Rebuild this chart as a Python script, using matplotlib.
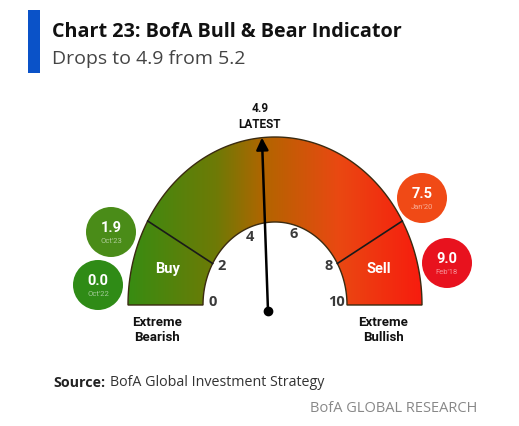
import numpy as np
import matplotlib
matplotlib.use('Agg')
import matplotlib.pyplot as plt
from matplotlib.patches import Polygon, Circle, Rectangle
from matplotlib.colors import LinearSegmentedColormap

plt.rcParams['font.family'] = ['Open Sans', 'DejaVu Sans']
NARROW = ['Roboto', 'DejaVu Sans']

# gauge scale
scale_ticks = [0, 2, 4, 6, 8, 10]
scale_angles = [180, 150, 114, 72, 30, 0]   # angle of each tick on the dial
latest = 4.9
buy_limit = 2
sell_limit = 8
zone_labels = ['Buy', 'Sell']
extreme_labels = ['Extreme\nBearish', 'Extreme\nBullish']

# past readings shown as bubbles
hist_values = [1.9, 0.0, 7.5, 9.0]
hist_dates = ["Oct'23", "Oct'22", "Jan'20", "Feb'18"]
hist_colors = ['#4a8c18', '#2f8b16', '#f04a16', '#e8121e']
hist_pos = [(111, 232), (98, 285), (422, 198), (447, 263)]

title = 'Chart 23: BofA Bull & Bear Indicator'
subtitle = 'Drops to 4.9 from 5.2'
source = 'BofA Global Investment Strategy'
brand = 'BofA GLOBAL RESEARCH'

# geometry (pixels)
cx, cy = 275, 305
rx_out, ry_out = 147, 168
rx_in, ry_in = 72, 83


def ang(v):
    return np.radians(np.interp(v, scale_ticks, scale_angles))


def pt(a, rx, ry):
    return cx + rx * np.cos(a), cy - ry * np.sin(a)


fig = plt.figure(figsize=(5.19, 4.26), dpi=100)
ax = fig.add_axes([0, 0, 1, 1])
ax.set_xlim(0, 519)
ax.set_ylim(426, 0)
ax.axis('off')

# header
ax.add_patch(Rectangle((28, 10), 12, 63, color='#0a52c8', lw=0))
ax.text(52, 32, title, fontsize=14.2, fontweight='bold', color='#111111', va='center')
ax.text(52, 59, subtitle, fontsize=14, color='#444444', va='center')

# gauge body with horizontal gradient
t = np.linspace(np.pi, 0, 200)
ox, oy = pt(t, rx_out, ry_out)
ix, iy = pt(t[::-1], rx_in, ry_in)
shape = np.column_stack([np.r_[ox, ix], np.r_[oy, iy]])
poly = Polygon(shape, closed=True, fc='none', ec='#3a2a10', lw=1.0, zorder=3)
ax.add_patch(poly)
cmap = LinearSegmentedColormap.from_list('bb', [(0, '#388c12'), (0.3, '#6e7a06'),
                                                (0.47, '#b46400'), (0.72, '#ea4812'),
                                                (1, '#f71c0e')])
grad = np.linspace(0, 1, 256).reshape(1, -1)
im = ax.imshow(grad, cmap=cmap, aspect='auto', extent=(cx - rx_out, cx + rx_out, cy, cy - ry_out),
               zorder=2)
im.set_clip_path(poly)
ax.set_xlim(0, 519)
ax.set_ylim(426, 0)

# buy / sell dividers
for v in [buy_limit, sell_limit]:
    a = ang(v)
    x0, y0 = pt(a, rx_in, ry_in)
    x1, y1 = pt(a, rx_out, ry_out)
    ax.plot([x0, x1], [y0, y1], color='#1a1a1a', lw=1.2, zorder=4)

# zone labels
for lab, (v0, v1) in zip(zone_labels, [(0, buy_limit), (sell_limit, 10)]):
    a = (ang(v0) + ang(v1)) / 2
    a = a + (np.radians(-4) if v0 == 0 else np.radians(4))
    x, y = pt(a, (rx_in + rx_out) / 2, (ry_in + ry_out) / 2)
    ax.text(x - 4 if v0 == 0 else x, y + 5, lab, color='white', fontsize=10.5, fontweight='bold',
            family=NARROW, ha='center', va='center', zorder=5)

# scale labels
for v in scale_ticks:
    x, y = pt(ang(v), rx_in * 0.86, ry_in * 0.86)
    ax.text(x, y - 3, str(v), fontsize=10.5, fontweight='bold', color='#3a3a3a',
            ha='center', va='center', zorder=5)

# extremes
ax.text(157, 330, extreme_labels[0], fontsize=9.5, fontweight='bold', ha='center', va='center',
        family=NARROW, linespacing=1.15, color='#111111')
ax.text(383, 330, extreme_labels[1], fontsize=9.5, fontweight='bold', ha='center', va='center',
        family=NARROW, linespacing=1.15, color='#111111')

# needle
px, py = cx - 7, cy + 6
tx, ty = pt(ang(latest), rx_out, ry_out)
ax.annotate('', xy=(tx, ty), xytext=(px, py),
            arrowprops=dict(arrowstyle='-|>', lw=1.8, color='black', mutation_scale=18,
                            shrinkA=0, shrinkB=0), zorder=6)
ax.plot(px, py, 'o', ms=6, color='black', zorder=7)
ax.text(tx - 2, ty - 21, f'{latest}\nLATEST', fontsize=8.5, fontweight='bold', ha='center',
        va='center', family=NARROW, linespacing=1.25, color='#111111')

# history bubbles
for v, d, c, (x, y) in zip(hist_values, hist_dates, hist_colors, hist_pos):
    ax.add_patch(Circle((x, y), 25, color=c, lw=0, zorder=3))
    ax.text(x, y - 4, f'{v:.1f}', color='white', fontsize=10.5, fontweight='bold',
            family=NARROW, ha='center', va='center', zorder=4)
    ax.text(x, y + 9, d, color='#ffffff', alpha=0.55, fontsize=5.5, family=NARROW,
            ha='center', va='center', zorder=4)

# footer
ax.text(53, 383, 'Source:', fontsize=10.3, fontweight='bold', color='#222222', va='center')
ax.text(110, 383, source, fontsize=10.3, color='#333333', va='center')
ax.text(477, 408, brand, fontsize=10.5, color='#888888', va='center', ha='right')

fig.savefig('out.png', dpi=100, facecolor='white')
